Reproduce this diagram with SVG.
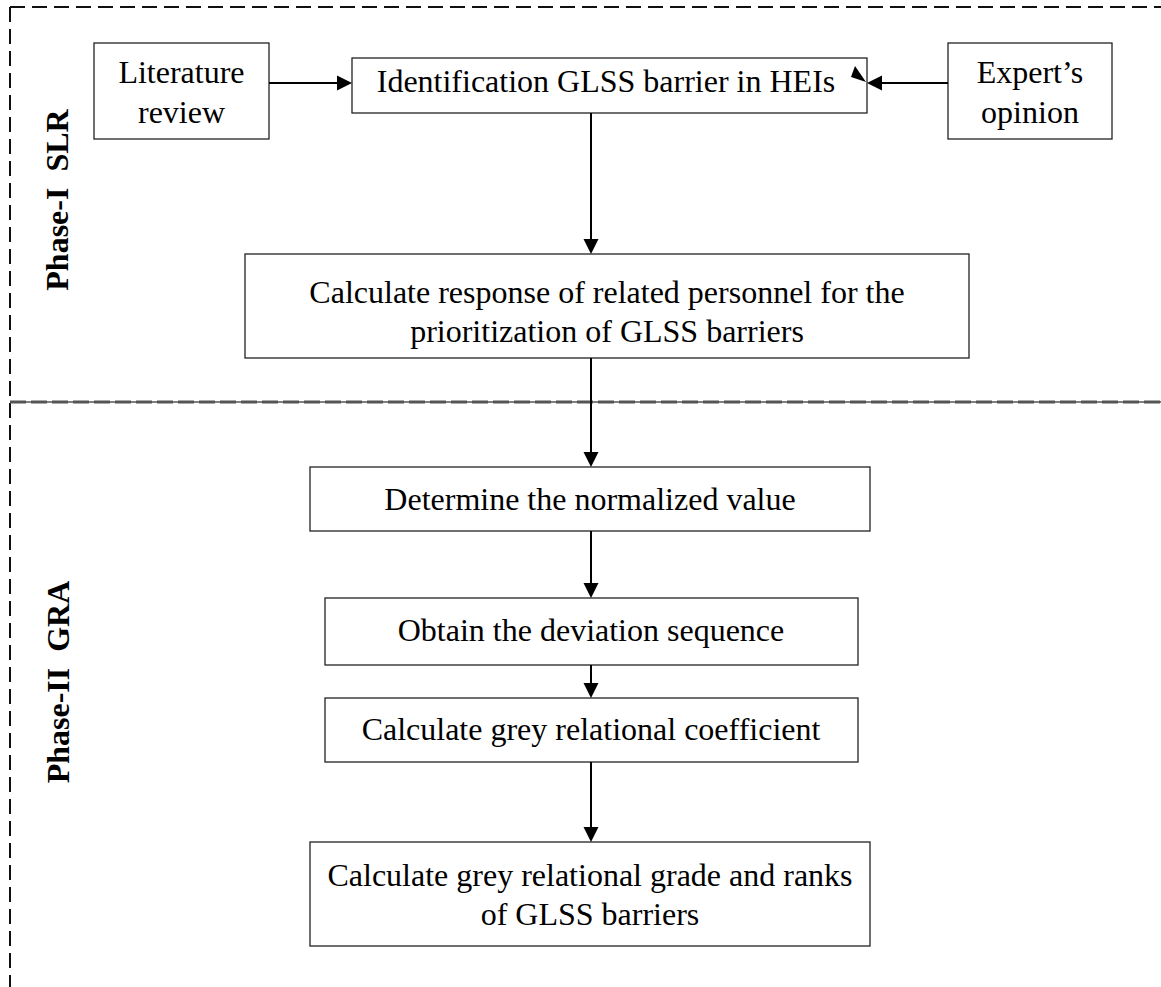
<svg xmlns="http://www.w3.org/2000/svg" width="1161" height="987" viewBox="0 0 1161 987">
<style>
.box{fill:#fff;stroke:#222;stroke-width:1.3}
.t{font-family:"Liberation Serif","Times New Roman",serif;font-size:32px;fill:#000;text-anchor:middle}
.ph{font-family:"Liberation Serif","Times New Roman",serif;font-size:32px;font-weight:bold;fill:#000;text-anchor:middle;white-space:pre}
.c{stroke:#000;stroke-width:2;fill:none}
.ah{fill:#000}
.dash{stroke:#111;stroke-width:2;fill:none;stroke-dasharray:15 7}
</style>
<g id="frame">
<line class="dash" x1="10" y1="7" x2="1161" y2="7"/>
<line class="dash" x1="10" y1="7" x2="10" y2="987" stroke-dasharray="13 7"/>
<line x1="10" y1="402" x2="1161" y2="402" stroke="#000" stroke-width="1"/>
<line x1="10" y1="402" x2="1161" y2="402" stroke="#555" stroke-width="3" stroke-dasharray="16 5"/>
</g>
<g id="phase1-label"><text class="ph" transform="translate(68,200) rotate(-90)">Phase-I  SLR</text></g>
<g id="phase2-label"><text class="ph" transform="translate(69,682) rotate(-90)">Phase-II  GRA</text></g>
<g id="literature">
<rect class="box" x="94" y="43" width="175" height="96"/>
<text class="t" x="181.5" y="83">Literature</text>
<text class="t" x="181.5" y="123">review</text>
</g>
<g id="identification">
<rect class="box" x="352" y="58" width="515" height="55"/>
<text class="t" x="606" y="92">Identification GLSS barrier in HEIs</text>
</g>
<g id="expert">
<rect class="box" x="948" y="43" width="164" height="96"/>
<text class="t" x="1030" y="83">Expert’s</text>
<text class="t" x="1030" y="123">opinion</text>
</g>
<g id="response">
<rect class="box" x="245" y="254" width="724" height="104"/>
<text class="t" x="607" y="303">Calculate response of related personnel for the</text>
<text class="t" x="607" y="342">prioritization of GLSS barriers</text>
</g>
<g id="normalized">
<rect class="box" x="310" y="467" width="560" height="64"/>
<text class="t" x="590" y="510">Determine the normalized value</text>
</g>
<g id="deviation">
<rect class="box" x="325" y="598" width="533" height="67"/>
<text class="t" x="591" y="641">Obtain the deviation sequence</text>
</g>
<g id="coefficient">
<rect class="box" x="325" y="698" width="533" height="64"/>
<text class="t" x="591" y="740">Calculate grey relational coefficient</text>
</g>
<g id="grade">
<rect class="box" x="310" y="842" width="560" height="104"/>
<text class="t" x="590" y="886">Calculate grey relational grade and ranks</text>
<text class="t" x="590" y="925">of GLSS barriers</text>
</g>
<g id="connectors">
<line class="c" x1="269" y1="83" x2="338" y2="83"/>
<polygon class="ah" points="352,83 337,75.5 337,90.5"/>
<line class="c" x1="948" y1="83" x2="882" y2="83"/>
<polygon class="ah" points="867,83 882,75.5 882,90.5"/>
<polygon class="ah" points="855,66 851,77 866,82"/>
<line class="c" x1="591" y1="113" x2="591" y2="240"/>
<polygon class="ah" points="591,254 583.5,239 598.5,239"/>
<line class="c" x1="591" y1="358" x2="591" y2="453"/>
<polygon class="ah" points="591,467 583.5,452 598.5,452"/>
<line class="c" x1="591" y1="531" x2="591" y2="584"/>
<polygon class="ah" points="591,598 583.5,583 598.5,583"/>
<line class="c" x1="591" y1="665" x2="591" y2="684"/>
<polygon class="ah" points="591,698 583.5,683 598.5,683"/>
<line class="c" x1="591" y1="762" x2="591" y2="828"/>
<polygon class="ah" points="591,842 583.5,827 598.5,827"/>
</g>
</svg>
